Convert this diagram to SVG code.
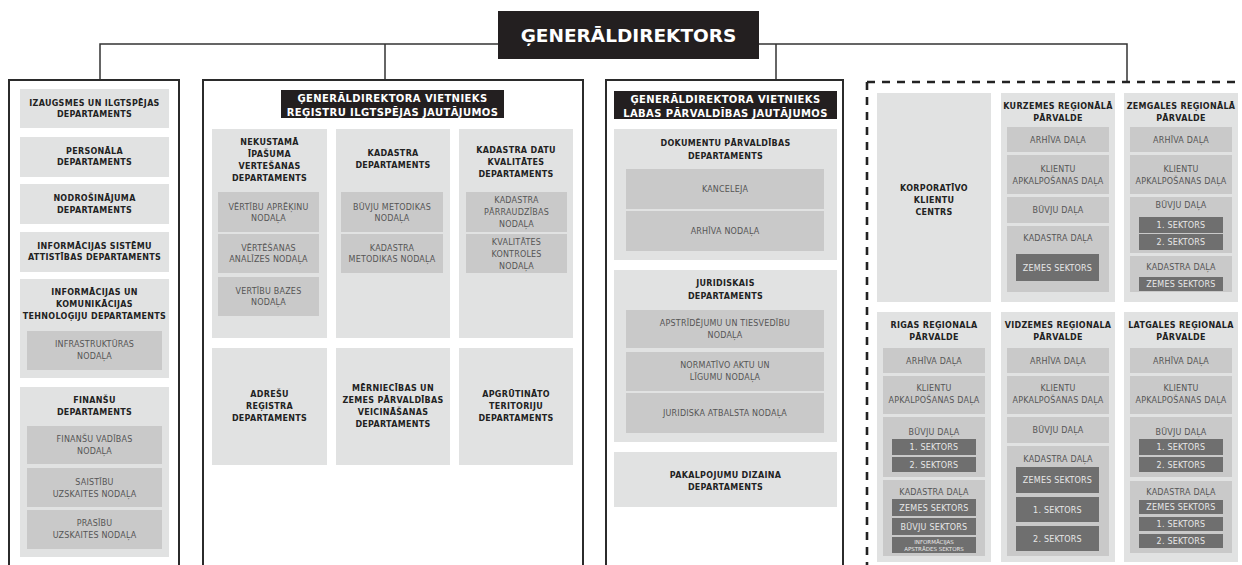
<svg xmlns="http://www.w3.org/2000/svg" width="1242" height="565" viewBox="0 0 1242 565">
<style>
.col{fill:#fff;stroke:#2b2b2b;stroke-width:2}
.g{fill:#e1e2e2}
.i{fill:#c9c9c9}
.d{fill:#6f6f6f}
.k{fill:#231f20}
text{font-family:"DejaVu Sans","Liberation Sans",sans-serif;text-anchor:middle}
.t{font-size:8px;font-weight:bold;fill:#222;letter-spacing:0.3px}
.s{font-size:8px;fill:#555;letter-spacing:0.2px}
.w{font-size:8px;fill:#e8e8e8;letter-spacing:0.2px}
.h{font-size:10px;font-weight:bold;fill:#fff;letter-spacing:0.4px}
.big{font-size:18.5px;font-weight:bold;fill:#fff}
.con{fill:none;stroke:#333;stroke-width:1.5}
.dash{fill:none;stroke:#222;stroke-width:2.6;stroke-dasharray:8 7}
</style>
<rect width="1242" height="565" fill="#fff"/>

<g id="connectors">
<path class="con" d="M100 80 V44 H1127 V82"/>
<path class="con" d="M385 44 V80"/>
<path class="con" d="M776 44 V80"/>
</g>

<g id="generaldirektors">
<rect class="k" x="498" y="11" width="261" height="48"/>
<text class="big" x="628.5" y="42">ĢENERĀLDIREKTORS</text>
</g>

<!-- Left column -->
<g id="col-left">
<rect class="col" x="9" y="80" width="170" height="500"/>
</g>
<g id="izaugsmes">
<rect class="g" x="20" y="89" width="149" height="39"/>
<text class="t" x="94.5" y="106">IZAUGSMES UN ILGTSPĒJAS</text>
<text class="t" x="94.5" y="117">DEPARTAMENTS</text>
</g>
<g id="personala">
<rect class="g" x="20" y="137" width="149" height="40"/>
<text class="t" x="94.5" y="154">PERSONĀLA</text>
<text class="t" x="94.5" y="165">DEPARTAMENTS</text>
</g>
<g id="nodrosinajuma">
<rect class="g" x="20" y="184" width="149" height="40"/>
<text class="t" x="94.5" y="201">NODROŠINĀJUMA</text>
<text class="t" x="94.5" y="213">DEPARTAMENTS</text>
</g>
<g id="info-sistemu">
<rect class="g" x="20" y="232" width="149" height="40"/>
<text class="t" x="94.5" y="249">INFORMĀCIJAS SISTĒMU</text>
<text class="t" x="94.5" y="260">ATTISTĪBAS DEPARTAMENTS</text>
</g>
<g id="ikt">
<rect class="g" x="20" y="279" width="149" height="99"/>
<text class="t" x="94.5" y="295">INFORMĀCIJAS UN</text>
<text class="t" x="94.5" y="307">KOMUNIKĀCIJAS</text>
<text class="t" x="94.5" y="319">TEHNOLOĢIJU DEPARTAMENTS</text>
<rect class="i" x="27" y="331" width="135" height="39"/>
<text class="s" x="94.5" y="347">INFRASTRUKTŪRAS</text>
<text class="s" x="94.5" y="359">NODAĻA</text>
</g>
<g id="finansu">
<rect class="g" x="20" y="387" width="149" height="170"/>
<text class="t" x="94.5" y="403">FINANŠU</text>
<text class="t" x="94.5" y="415">DEPARTAMENTS</text>
<rect class="i" x="27" y="426" width="135" height="38"/>
<text class="s" x="94.5" y="442">FINANŠU VADĪBAS</text>
<text class="s" x="94.5" y="454">NODAĻA</text>
<rect class="i" x="27" y="468" width="135" height="39"/>
<text class="s" x="94.5" y="485">SAISTĪBU</text>
<text class="s" x="94.5" y="497">UZSKAITES NODAĻA</text>
<rect class="i" x="27" y="510" width="135" height="39"/>
<text class="s" x="94.5" y="526">PRASĪBU</text>
<text class="s" x="94.5" y="538">UZSKAITES NODAĻA</text>
</g>

<!-- Middle column -->
<g id="col-middle">
<rect class="col" x="203" y="80" width="380" height="500"/>
</g>
<g id="vietnieks-registru">
<rect class="k" x="281" y="90" width="223" height="28"/>
<text class="h" x="392.5" y="102">ĢENERĀLDIREKTORA VIETNIEKS</text>
<text class="h" x="392.5" y="115.5">REĢISTRU ILGTSPĒJAS JAUTĀJUMOS</text>
</g>
<g id="nekustama">
<rect class="g" x="212" y="129" width="115" height="209"/>
<text class="t" x="269.5" y="145">NEKUSTAMĀ</text>
<text class="t" x="269.5" y="157">ĪPAŠUMA</text>
<text class="t" x="269.5" y="169">VERTEŠANAS</text>
<text class="t" x="269.5" y="181">DEPARTAMENTS</text>
<rect class="i" x="218" y="192" width="101" height="40"/>
<text class="s" x="268.5" y="209.5">VĒRTĪBU APRĒĶINU</text>
<text class="s" x="268.5" y="220.5">NODAĻA</text>
<rect class="i" x="218" y="234" width="101" height="39"/>
<text class="s" x="268.5" y="250.5">VĒRTĒŠANAS</text>
<text class="s" x="268.5" y="262">ANALĪZES NODAĻA</text>
<rect class="i" x="218" y="277" width="101" height="39"/>
<text class="s" x="268.5" y="293.5">VERTĪBU BAZES</text>
<text class="s" x="268.5" y="305">NODAĻA</text>
</g>
<g id="kadastra">
<rect class="g" x="336" y="129" width="114" height="209"/>
<text class="t" x="393" y="156">KADASTRA</text>
<text class="t" x="393" y="168">DEPARTAMENTS</text>
<rect class="i" x="341" y="192" width="102" height="40"/>
<text class="s" x="392" y="209.5">BŪVJU METODIKAS</text>
<text class="s" x="392" y="220.5">NODAĻA</text>
<rect class="i" x="341" y="234" width="102" height="39"/>
<text class="s" x="392" y="250.5">KADASTRA</text>
<text class="s" x="392" y="262">METODIKAS NODAĻA</text>
</g>
<g id="kadastra-datu">
<rect class="g" x="459" y="129" width="114" height="209"/>
<text class="t" x="516" y="153">KADASTRA DATU</text>
<text class="t" x="516" y="165">KVALITĀTES</text>
<text class="t" x="516" y="177">DEPARTAMENTS</text>
<rect class="i" x="466" y="192" width="101" height="40"/>
<text class="s" x="516.5" y="203">KADASTRA</text>
<text class="s" x="516.5" y="215">PĀRRAUDZĪBAS</text>
<text class="s" x="516.5" y="227">NODAĻA</text>
<rect class="i" x="466" y="234" width="101" height="39"/>
<text class="s" x="516.5" y="244.5">KVALITĀTES</text>
<text class="s" x="516.5" y="256.5">KONTROLES</text>
<text class="s" x="516.5" y="268.5">NODAĻA</text>
</g>
<g id="adresu">
<rect class="g" x="212" y="348" width="115" height="117"/>
<text class="t" x="269.5" y="397">ADREŠU</text>
<text class="t" x="269.5" y="409">REĢISTRA</text>
<text class="t" x="269.5" y="421">DEPARTAMENTS</text>
</g>
<g id="merniecibas">
<rect class="g" x="336" y="348" width="114" height="117"/>
<text class="t" x="393" y="391">MĒRNIECĪBAS UN</text>
<text class="t" x="393" y="403">ZEMES PĀRVALDĪBAS</text>
<text class="t" x="393" y="415">VEICINĀŠANAS</text>
<text class="t" x="393" y="427">DEPARTAMENTS</text>
</g>
<g id="apgrutinato">
<rect class="g" x="459" y="348" width="114" height="117"/>
<text class="t" x="516" y="397">APGRŪTINĀTO</text>
<text class="t" x="516" y="409">TERITORIJU</text>
<text class="t" x="516" y="421">DEPARTAMENTS</text>
</g>

<!-- Column 3 -->
<g id="col-third">
<rect class="col" x="606" y="80" width="237" height="500"/>
</g>
<g id="vietnieks-labas">
<rect class="k" x="614" y="91" width="223" height="28"/>
<text class="h" x="725.5" y="103">ĢENERĀLDIREKTORA VIETNIEKS</text>
<text class="h" x="725.5" y="116.5">LABAS PĀRVALDĪBAS JAUTĀJUMOS</text>
</g>
<g id="dokumentu">
<rect class="g" x="614" y="129" width="223" height="131"/>
<text class="t" x="725.5" y="146">DOKUMENTU PĀRVALDĪBAS</text>
<text class="t" x="725.5" y="159">DEPARTAMENTS</text>
<rect class="i" x="626" y="169" width="198" height="40"/>
<text class="s" x="725" y="192">KANCELEJA</text>
<rect class="i" x="626" y="211" width="198" height="40"/>
<text class="s" x="725" y="234">ARHĪVA NODAĻA</text>
</g>
<g id="juridiskais">
<rect class="g" x="614" y="270" width="223" height="172"/>
<text class="t" x="725.5" y="286">JURIDISKAIS</text>
<text class="t" x="725.5" y="299">DEPARTAMENTS</text>
<rect class="i" x="626" y="310" width="198" height="38"/>
<text class="s" x="725" y="326">APSTRĪDĒJUMU UN TIESVEDĪBU</text>
<text class="s" x="725" y="338">NODAĻA</text>
<rect class="i" x="626" y="352" width="198" height="39"/>
<text class="s" x="725" y="368">NORMATĪVO AKTU UN</text>
<text class="s" x="725" y="380">LĪGUMU NODAĻA</text>
<rect class="i" x="626" y="393" width="198" height="40"/>
<text class="s" x="725" y="416">JURIDISKA ATBALSTA NODAĻA</text>
</g>
<g id="pakalpojumu">
<rect class="g" x="614" y="452" width="223" height="55"/>
<text class="t" x="725.5" y="478">PAKALPOJUMU DIZAINA</text>
<text class="t" x="725.5" y="490">DEPARTAMENTS</text>
</g>

<!-- Regional section -->
<g id="regional-frame">
<path class="dash" d="M867 82 H1242 M867 82 V565"/>
</g>
<g id="korporativo">
<rect class="g" x="877" y="93" width="114" height="209"/>
<text class="t" x="934" y="191">KORPORATĪVO</text>
<text class="t" x="934" y="203">KLIENTU</text>
<text class="t" x="934" y="215">CENTRS</text>
</g>
<g id="kurzemes">
<rect class="g" x="1001" y="93" width="114" height="209"/>
<text class="t" x="1058" y="109">KURZEMES REĢIONĀLĀ</text>
<text class="t" x="1058" y="121">PĀRVALDE</text>
<rect class="i" x="1007" y="127" width="102" height="25"/>
<text class="s" x="1058" y="142.5">ARHĪVA DAĻA</text>
<rect class="i" x="1007" y="155" width="102" height="39"/>
<text class="s" x="1058" y="172">KLIENTU</text>
<text class="s" x="1058" y="184">APKALPOŠANAS DAĻA</text>
<rect class="i" x="1007" y="197" width="102" height="26"/>
<text class="s" x="1058" y="213">BŪVJU DAĻA</text>
<rect class="i" x="1007" y="226" width="102" height="66"/>
<text class="s" x="1058" y="241">KADASTRA DAĻA</text>
<rect class="d" x="1016" y="254" width="83" height="27"/>
<text class="w" x="1057.5" y="270.5">ZEMES SEKTORS</text>
</g>
<g id="zemgales">
<rect class="g" x="1124" y="93" width="114" height="209"/>
<text class="t" x="1181" y="109">ZEMGALES REĢIONĀLĀ</text>
<text class="t" x="1181" y="121">PĀRVALDE</text>
<rect class="i" x="1130" y="127" width="102" height="25"/>
<text class="s" x="1181" y="142.5">ARHĪVA DAĻA</text>
<rect class="i" x="1130" y="155" width="102" height="39"/>
<text class="s" x="1181" y="172">KLIENTU</text>
<text class="s" x="1181" y="184">APKALPOŠANAS DAĻA</text>
<rect class="i" x="1130" y="197" width="102" height="56"/>
<text class="s" x="1181" y="208">BŪVJU DAĻA</text>
<rect class="d" x="1139" y="217" width="84" height="16"/>
<text class="w" x="1181" y="228">1. SEKTORS</text>
<rect class="d" x="1139" y="234" width="84" height="16"/>
<text class="w" x="1181" y="245">2. SEKTORS</text>
<rect class="i" x="1130" y="256" width="102" height="36"/>
<text class="s" x="1181" y="270">KADASTRA DAĻA</text>
<rect class="d" x="1139" y="277" width="84" height="14"/>
<text class="w" x="1181" y="287">ZEMES SEKTORS</text>
</g>
<g id="rigas">
<rect class="g" x="877" y="312" width="114" height="250"/>
<text class="t" x="934" y="328">RIGAS REĢIONALA</text>
<text class="t" x="934" y="340">PĀRVALDE</text>
<rect class="i" x="883" y="348" width="102" height="25"/>
<text class="s" x="934" y="363.5">ARHĪVA DAĻA</text>
<rect class="i" x="883" y="376" width="102" height="38"/>
<text class="s" x="934" y="391">KLIENTU</text>
<text class="s" x="934" y="403">APKALPOŠANAS DAĻA</text>
<rect class="i" x="883" y="417" width="102" height="60"/>
<text class="s" x="934" y="435">BŪVJU DAĻA</text>
<rect class="d" x="892" y="439" width="84" height="16"/>
<text class="w" x="934" y="450">1. SEKTORS</text>
<rect class="d" x="892" y="457" width="84" height="15"/>
<text class="w" x="934" y="467.5">2. SEKTORS</text>
<rect class="i" x="883" y="480" width="102" height="76"/>
<text class="s" x="934" y="495">KADASTRA DAĻA</text>
<rect class="d" x="892" y="499" width="84" height="17"/>
<text class="w" x="934" y="510.5">ZEMES SEKTORS</text>
<rect class="d" x="892" y="518" width="84" height="17"/>
<text class="w" x="934" y="529.5">BŪVJU SEKTORS</text>
<rect class="d" x="892" y="537" width="84" height="16"/>
<text class="w" x="934" y="543.5" style="font-size:5.5px;letter-spacing:0">INFORMĀCIJAS</text>
<text class="w" x="934" y="550.5" style="font-size:5.5px;letter-spacing:0">APSTRĀDES SEKTORS</text>
</g>
<g id="vidzemes">
<rect class="g" x="1001" y="312" width="114" height="250"/>
<text class="t" x="1058" y="328">VIDZEMES REĢIONALA</text>
<text class="t" x="1058" y="340">PĀRVALDE</text>
<rect class="i" x="1007" y="348" width="102" height="25"/>
<text class="s" x="1058" y="363.5">ARHĪVA DAĻA</text>
<rect class="i" x="1007" y="376" width="102" height="38"/>
<text class="s" x="1058" y="391">KLIENTU</text>
<text class="s" x="1058" y="403">APKALPOŠANAS DAĻA</text>
<rect class="i" x="1007" y="417" width="102" height="26"/>
<text class="s" x="1058" y="433">BŪVJU DAĻA</text>
<rect class="i" x="1007" y="446" width="102" height="110"/>
<text class="s" x="1058" y="462">KADASTRA DAĻA</text>
<rect class="d" x="1016" y="467" width="83" height="26"/>
<text class="w" x="1057.5" y="483">ZEMES SEKTORS</text>
<rect class="d" x="1016" y="497" width="83" height="25"/>
<text class="w" x="1057.5" y="512.5">1. SEKTORS</text>
<rect class="d" x="1016" y="526" width="83" height="25"/>
<text class="w" x="1057.5" y="541.5">2. SEKTORS</text>
</g>
<g id="latgales">
<rect class="g" x="1124" y="312" width="114" height="250"/>
<text class="t" x="1181" y="328">LATGALES REĢIONALA</text>
<text class="t" x="1181" y="340">PĀRVALDE</text>
<rect class="i" x="1130" y="348" width="102" height="25"/>
<text class="s" x="1181" y="363.5">ARHĪVA DAĻA</text>
<rect class="i" x="1130" y="376" width="102" height="38"/>
<text class="s" x="1181" y="391">KLIENTU</text>
<text class="s" x="1181" y="403">APKALPOŠANAS DAĻA</text>
<rect class="i" x="1130" y="417" width="102" height="60"/>
<text class="s" x="1181" y="435">BŪVJU DAĻA</text>
<rect class="d" x="1139" y="439" width="84" height="16"/>
<text class="w" x="1181" y="450">1. SEKTORS</text>
<rect class="d" x="1139" y="457" width="84" height="15"/>
<text class="w" x="1181" y="467.5">2. SEKTORS</text>
<rect class="i" x="1130" y="481" width="102" height="72"/>
<text class="s" x="1181" y="495">KADASTRA DAĻA</text>
<rect class="d" x="1139" y="500" width="84" height="14"/>
<text class="w" x="1181" y="510">ZEMES SEKTORS</text>
<rect class="d" x="1139" y="517" width="84" height="14"/>
<text class="w" x="1181" y="527">1. SEKTORS</text>
<rect class="d" x="1139" y="534" width="84" height="14"/>
<text class="w" x="1181" y="544">2. SEKTORS</text>
</g>
</svg>
